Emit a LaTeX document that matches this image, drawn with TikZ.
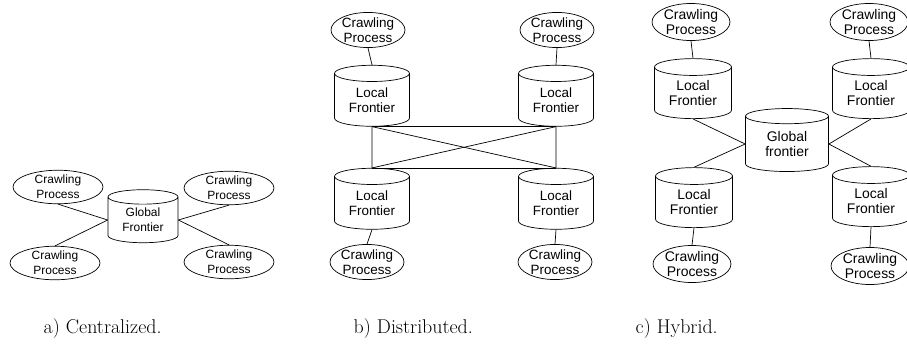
\documentclass[tikz,border=0pt]{standalone}
\usepackage{fontspec}
\setsansfont{Liberation Sans}
\usetikzlibrary{shapes.geometric}

\tikzset{
  process/.style={ellipse, draw, inner sep=0pt, align=center},
  frontier/.style={cylinder, draw, shape border rotate=90, aspect=0.35,
    inner sep=0pt, align=center},
  caption/.style={font=\rmfamily\fontsize{20}{24}\selectfont, anchor=base west},
}

\begin{document}
\begin{tikzpicture}[%
    x=1bp, y=-1bp,
    line width=0.7bp,
    font=\sffamily\fontsize{12}{15}\selectfont
    ]
    \useasboundingbox (0,0) rectangle (907,343);

    % a) centralized
    \begin{scope}[process/.append style={minimum width=90bp, minimum height=30bp}]
    \node[frontier, minimum width=70bp, minimum height=53bp] (ga) at (143,220) {Global\\Frontier};
    \node[process] (pa1) at (58,187) {Crawling\\Process};
    \node[process] (pa2) at (229,188) {Crawling\\Process};
    \node[process] (pa3) at (55,263) {Crawling\\Process};
    \node[process] (pa4) at (229,262) {Crawling\\Process};
    \end{scope}

    \path[draw] (pa1.south) -- (ga.west);
    \path[draw] (pa3.north) -- (ga.west);
    \path[draw] (ga.east) -- (pa2.south);
    \path[draw] (ga.east) -- (pa4.north);

    % b) distributed
    \begin{scope}[font=\sffamily\fontsize{13.5}{15}\selectfont,
                  process/.append style={minimum width=65bp, minimum height=31bp},
                  frontier/.append style={minimum width=75bp, minimum height=61bp}]
    \node[frontier] (lb1) at (372,100) {Local\\Frontier};
    \node[frontier] (lb2) at (556,100) {Local\\Frontier};
    \node[frontier] (lb3) at (372,203) {Local\\Frontier};
    \node[frontier] (lb4) at (556,203) {Local\\Frontier};
    \node[process] (pb1) at (368,30) {Crawling\\Process};
    \node[process] (pb2) at (557,30) {Crawling\\Process};
    \node[process] (pb3) at (367,262) {Crawling\\Process};
    \node[process] (pb4) at (555,262) {Crawling\\Process};
    \end{scope}

    \path[draw] (pb1.south) -- (lb1.north);
    \path[draw] (pb2.south) -- (lb2.north);
    \path[draw] (lb3.south) -- (pb3.north);
    \path[draw] (lb4.south) -- (pb4.north);
    \path[draw] (lb1.south) -- (lb2.south);
    \path[draw] (lb3.north) -- (lb4.north);
    \path[draw] (lb1.south) -- (lb3.north);
    \path[draw] (lb2.south) -- (lb4.north);
    \path[draw] (lb1.south) -- (lb4.north);
    \path[draw] (lb2.south) -- (lb3.north);

    % c) hybrid
    \begin{scope}[font=\sffamily\fontsize{14}{16}\selectfont,
                  process/.append style={minimum width=78bp, minimum height=35bp},
                  frontier/.append style={minimum width=77bp, minimum height=60bp}]
    \node[frontier, minimum width=83bp, minimum height=63bp] (gc) at (787,144) {Global\\frontier};
    \node[frontier] (lc1) at (693,93) {Local\\Frontier};
    \node[frontier] (lc2) at (871,93) {Local\\Frontier};
    \node[frontier] (lc3) at (694,202) {Local\\Frontier};
    \node[frontier] (lc4) at (871,201) {Local\\Frontier};
    \node[process] (pc1) at (691,22) {Crawling\\Process};
    \node[process] (pc2) at (869,22) {Crawling\\Process};
    \node[process] (pc3) at (692,264) {Crawling\\Process};
    \node[process] (pc4) at (870,266) {Crawling\\Process};
    \end{scope}

    \path[draw] (pc1.south) -- (lc1.north);
    \path[draw] (pc2.south) -- (lc2.north);
    \path[draw] (lc3.south) -- (pc3.north);
    \path[draw] (lc4.south) -- (pc4.north);
    \path[draw] (lc1.south) -- (gc.west);
    \path[draw] (lc3.north) -- (gc.west);
    \path[draw] (gc.east) -- (lc2.south);
    \path[draw] (gc.east) -- (lc4.north);

    % captions
    \node[caption] (capa) at (40,333) {a) Centralized.};
    \node[caption] (capb) at (350,333) {b) Distributed.};
    \node[caption] (capc) at (632,333) {c) Hybrid.};

\end{tikzpicture}
\end{document}
